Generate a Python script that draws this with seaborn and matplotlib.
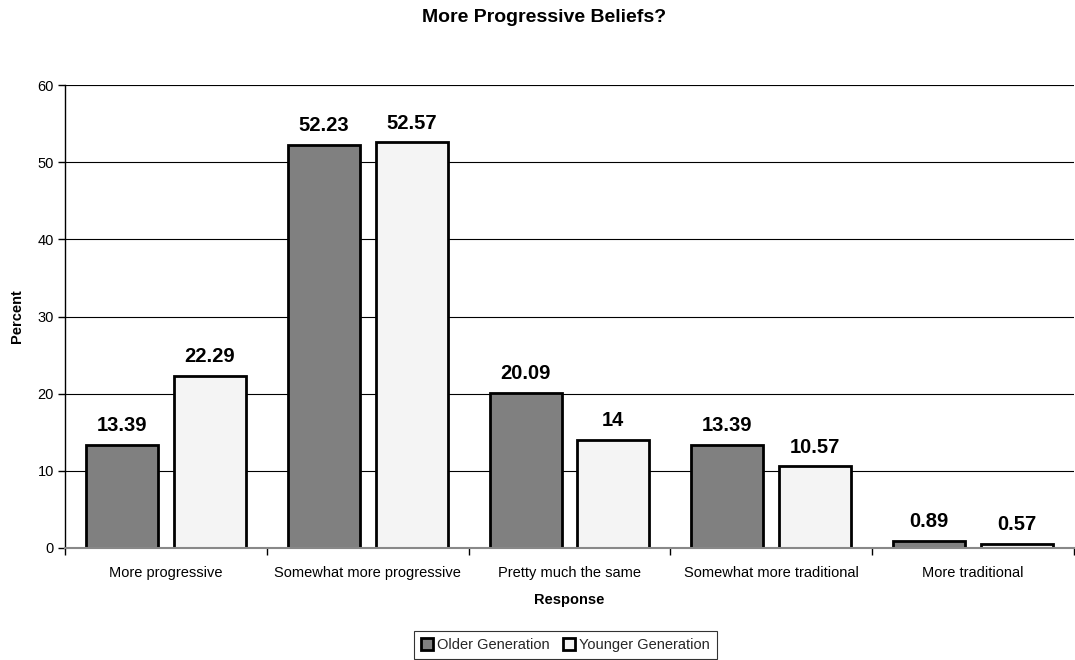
import matplotlib
matplotlib.use("Agg")
import matplotlib.pyplot as plt
import seaborn as sns
import pandas as pd
import numpy as np
from matplotlib.patches import Patch

categories = ["More progressive", "Somewhat more progressive", "Pretty much the same",
              "Somewhat more traditional", "More traditional"]
older = [13.39, 52.23, 20.09, 13.39, 0.89]
younger = [22.29, 52.57, 14, 10.57, 0.57]
older_labels = ["13.39", "52.23", "20.09", "13.39", "0.89"]
younger_labels = ["22.29", "52.57", "14", "10.57", "0.57"]
series = ["Older Generation", "Younger Generation"]

df = pd.DataFrame({
    "Response": categories * 2,
    "Percent": older + younger,
    "Group": [series[0]] * len(categories) + [series[1]] * len(categories),
})

sns.set_theme(style="white")
plt.rcParams["font.family"] = ["Liberation Sans", "DejaVu Sans"]

fig = plt.figure(figsize=(10.75, 6.6), dpi=100)
ax = fig.add_axes([0.0605, 0.1697, 0.9385, 0.7015])

palette = {series[0]: "#808080", series[1]: "#f4f4f4"}
sns.barplot(data=df, x="Response", y="Percent", hue="Group", order=categories,
            hue_order=series, palette=palette, width=0.87, gap=0.18,
            edgecolor="black", linewidth=2, saturation=1, legend=False, ax=ax)

ax.set_ylim(0, 60)
ax.set_xlim(-0.5, len(categories) - 0.5)
ax.set_yticks(np.arange(0, 61, 10))
ax.yaxis.grid(True, color="#000000", linewidth=0.8)
ax.set_axisbelow(True)
ax.axhline(60, color="#888888", linewidth=1.5, zorder=0)

for spine in ["top", "right"]:
    ax.spines[spine].set_visible(False)
ax.spines["left"].set_color("black")
ax.spines["left"].set_linewidth(1)
ax.spines["bottom"].set_color("#888888")
ax.spines["bottom"].set_linewidth(1.5)

ax.tick_params(axis="y", which="major", left=True, length=5, width=1, color="black",
               labelsize=10.5, pad=3, labelcolor="black")
ax.tick_params(axis="x", which="major", bottom=False, labelsize=10.5, pad=7, labelcolor="black")
ax.set_xticks(np.arange(-0.5, len(categories), 1.0), minor=True)
ax.tick_params(axis="x", which="minor", bottom=True, length=5, width=1, color="black")

ax.set_xlabel("Response", fontsize=10.5, fontweight="bold", labelpad=9, color="black")
ax.set_ylabel("Percent", fontsize=10.5, fontweight="bold", labelpad=10, color="black")
fig.suptitle("More Progressive Beliefs?", x=0.506, y=0.974, va="center",
             fontsize=14, fontweight="bold", color="black")

for container, labels in zip(ax.containers, [older_labels, younger_labels]):
    ax.bar_label(container, labels=labels, padding=7, fontsize=14.5, fontweight="bold", color="black")

handles = [Patch(facecolor=palette[s], edgecolor="black", linewidth=2) for s in series]
leg = fig.legend(handles, series, loc="lower center", bbox_to_anchor=(0.526, -0.01), ncol=2,
                 frameon=True, fancybox=False, fontsize=10.5, handlelength=0.8, handleheight=0.8,
                 handletextpad=0.3, columnspacing=0.9, borderpad=0.5)
leg.get_frame().set_edgecolor("black")
leg.get_frame().set_linewidth(0.8)

fig.savefig("out.png", dpi=100)
